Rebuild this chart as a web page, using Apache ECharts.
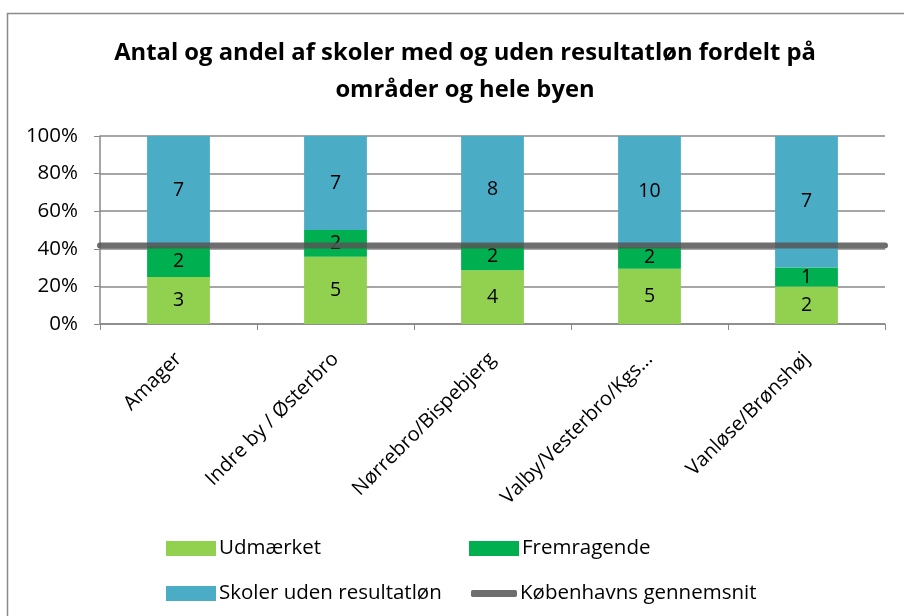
<!DOCTYPE html>
<html><head><meta charset="utf-8">
<script src="https://cdn.jsdelivr.net/npm/echarts@6/dist/echarts.min.js"></script>
<style>html,body{margin:0;padding:0;background:#fff}#c{width:904px;height:616px}</style>
</head><body><div id="c"></div>
<script>
const categories = ['Amager', 'Indre by / Østerbro', 'Nørrebro/Bispebjerg', 'Valby/Vesterbro/Kgs...', 'Vanløse/Brønshøj'];
const udmaerket = [3, 5, 4, 5, 2];
const fremragende = [2, 2, 2, 2, 1];
const udenResultatlon = [7, 7, 8, 10, 7];
const gennemsnit = 41.8;
const yTicks = [0, 20, 40, 60, 80, 100];
const seriesNames = ['Udmærket', 'Fremragende', 'Skoler uden resultatløn', 'Københavns gennemsnit'];

const totals = categories.map((c, i) => udmaerket[i] + fremragende[i] + udenResultatlon[i]);
const pct = arr => arr.map((v, i) => ({ value: v / totals[i] * 100, count: v }));

const font = 'Open Sans';
const lbl = { show: true, position: 'inside', color: '#000', fontSize: 19.5, fontFamily: font, formatter: p => p.data.count };
const legendText = { fontFamily: font, fontSize: 20.5, color: '#000', padding: [0, 0, 0, -2] };
const mkLegend = (name, left, top, extra) => Object.assign({
  left: left, top: top, itemWidth: 50, itemHeight: 15, icon: 'rect',
  textStyle: legendText, data: [name]
}, extra || {});

const chart = echarts.init(document.getElementById('c'));
chart.setOption({
  animation: false,
  title: {
    text: 'Antal og andel af skoler med og uden resultatløn fordelt på\nområder og hele byen',
    left: 460, textAlign: 'center', top: 30,
    textStyle: { fontFamily: font, fontWeight: 'bold', fontSize: 23.8, lineHeight: 37, color: '#000' }
  },
  graphic: [{ type: 'rect', shape: { x: 7.5, y: 13.5, width: 1000, height: 1000 }, style: { fill: 'none', stroke: '#8a8a8a', lineWidth: 1.5 }, silent: true, z: 100 }],
  grid: { left: 100, right: 19, top: 136, height: 188, containLabel: false },
  legend: [
    mkLegend(seriesNames[0], 161, 533),
    mkLegend(seriesNames[1], 464, 533),
    mkLegend(seriesNames[2], 161, 578),
    mkLegend(seriesNames[3], 466, 578, { itemWidth: 46, itemHeight: 7, icon: 'roundRect' })
  ],
  xAxis: [{
    type: 'category', data: categories,
    axisLine: { lineStyle: { color: '#888', width: 1.5 } },
    axisTick: { show: true, length: 6, lineStyle: { color: '#888' } },
    axisLabel: { rotate: 45, fontFamily: font, fontSize: 20, color: '#000', interval: 0, margin: 32 }
  }, {
    type: 'value', min: 0, max: 1, show: false
  }],
  yAxis: {
    type: 'value', min: 0, max: 100, interval: 20,
    axisLine: { show: true, lineStyle: { color: '#888', width: 1.5 } },
    axisTick: { show: true, length: 6, lineStyle: { color: '#888' } },
    splitLine: { lineStyle: { color: '#888', width: 1.5 } },
    axisLabel: { fontFamily: font, fontSize: 20.5, color: '#000', margin: 22, formatter: v => yTicks.includes(v) ? v + '%' : '' }
  },
  series: [
    { name: seriesNames[0], type: 'bar', stack: 's', barWidth: '40%', data: pct(udmaerket), itemStyle: { color: '#92d050' }, label: lbl },
    { name: seriesNames[1], type: 'bar', stack: 's', data: pct(fremragende), itemStyle: { color: '#00b050' }, label: lbl },
    { name: seriesNames[2], type: 'bar', stack: 's', data: pct(udenResultatlon), itemStyle: { color: '#4bacc6' }, label: lbl },
    { name: seriesNames[3], type: 'line', xAxisIndex: 1, data: [[0, gennemsnit], [1, gennemsnit]], symbol: 'none', z: 10,
      lineStyle: { color: 'rgba(85,85,85,0.85)', width: 6, cap: 'round' }, itemStyle: { color: '#6e6e6e' } }
  ]
});
</script></body></html>
